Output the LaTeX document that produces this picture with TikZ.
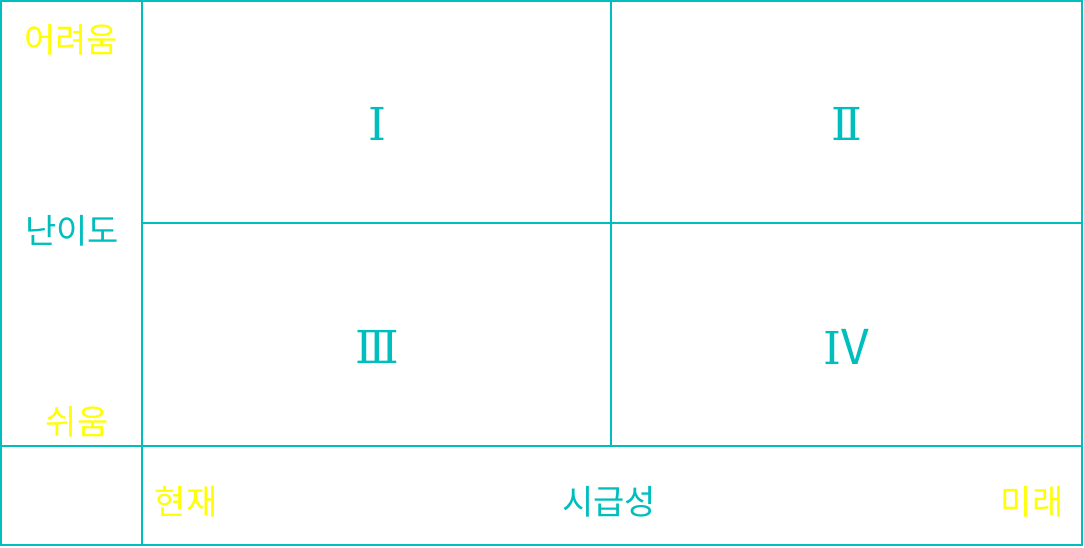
\documentclass[tikz,border=0pt]{standalone}
\usepackage{fontspec}
\setmainfont{DejaVu Serif}
\newfontfamily\kor{Noto Sans CJK KR}
\definecolor{teal1}{RGB}{0,190,190}
\definecolor{yell1}{RGB}{255,255,0}

\begin{document}
\begin{tikzpicture}[x=0.75pt, y=-0.75pt, line width=1.5pt,
  grid/.style = {draw=teal1},
  axis/.style = {text=teal1, font=\kor\fontsize{25.5}{25.5}\selectfont},
  ends/.style = {text=yell1, font=\kor\fontsize{25.5}{25.5}\selectfont},
  quad/.style = {text=teal1, font=\fontsize{34}{34}\selectfont}]
\useasboundingbox (0,0) rectangle (1084,548);
\draw[grid] (1,1) rectangle (1082,545);
\draw[grid] (142,1) -- (142,545);
\draw[grid] (611,1) -- (611,446);
\draw[grid] (142,223) -- (1082,223);
\draw[grid] (1,446) -- (1082,446);
\node[ends] (hard) at (71,40) {어려움};
\node[axis] (level) at (72,231) {난이도};
\node[ends] (easy) at (77,422) {쉬움};
\node[ends] (now) at (186,502) {현재};
\node[axis] (urgency) at (609,502) {시급성};
\node[ends] (future) at (1032,502) {미래};
\node[quad] (q1) at (377,124) {Ⅰ};
\node[quad] (q2) at (847,124) {Ⅱ};
\node[quad] (q3) at (377,347) {Ⅲ};
\node[quad] (q4) at (846,347) {I{\kor\fontsize{36}{36}\selectfont V}};
\end{tikzpicture}
\end{document}
